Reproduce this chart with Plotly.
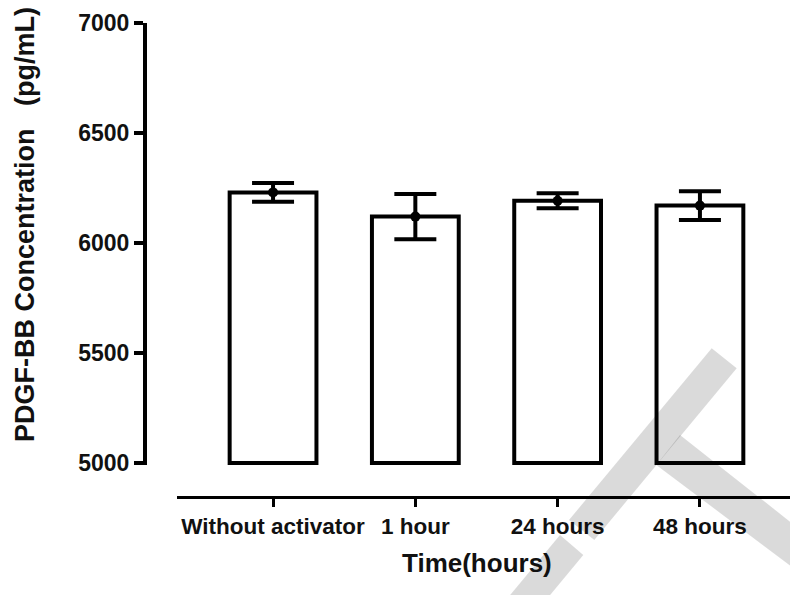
import plotly.graph_objects as go

# ---- data ----
categories = ["Without activator", "1 hour", "24 hours", "48 hours"]
means = [6230, 6120, 6192, 6170]
errors = [43, 103, 34, 65]
y_ticks = [5000, 5500, 6000, 6500, 7000]
baseline = 5000

W, H = 790, 595
FONT = "Liberation Sans"

def px(x):
    return x / W

def py(y):
    return 1 - y / H

xpos = list(range(len(categories)))

fig = go.Figure()
fig.add_trace(go.Bar(
    x=xpos,
    y=[m - baseline for m in means],
    base=baseline,
    width=0.61,
    marker=dict(color="white", line=dict(color="black", width=4)),
    showlegend=False,
    hoverinfo="skip",
))
fig.add_trace(go.Scatter(
    x=xpos,
    y=means,
    mode="markers",
    marker=dict(color="black", size=10),
    error_y=dict(type="data", array=errors, visible=True,
                 color="black", thickness=4, width=21),
    showlegend=False,
    cliponaxis=False,
))

# watermark (decorative, semi-transparent overlay)
def poly(pts):
    return "M " + " L ".join(f"{px(x)},{py(y)}" for x, y in pts) + " Z"

wm = [
    [(711.7, 348.3), (736.7, 368.3), (594.3, 540), (569, 520)],
    [(560, 535), (583.3, 555), (546, 600), (506, 600)],
    [(680, 435), (800, 529.5), (800, 573), (656.3, 465)],
]
shapes = [dict(type="path", xref="paper", yref="paper", path=poly(p),
               fillcolor="black", opacity=0.145, line=dict(width=0),
               layer="above") for p in wm]

ylo = 4990
fig.update_layout(
    width=W, height=H,
    margin=dict(l=0, r=0, t=0, b=0),
    paper_bgcolor="white", plot_bgcolor="white",
    font=dict(family=FONT, color="black"),
    xaxis=dict(
        domain=[px(177), 1],
        range=[-0.675, 3.633],
        anchor="free", position=py(497),
        showline=True, linecolor="black", linewidth=3,
        ticks="outside", ticklen=8, tickwidth=3, tickcolor="black",
        tickvals=xpos, ticktext=categories,
        tickfont=dict(family=FONT, size=22.5, weight="bold", color="#111"),
        showgrid=False, zeroline=False, automargin=False,
    ),
    yaxis=dict(
        domain=[py(463 + (5000 - ylo) * 0.22), py(23)],
        range=[ylo, 7000],
        anchor="free", position=px(145),
        showline=True, linecolor="black", linewidth=4,
        ticks="outside", ticklen=9, tickwidth=4, tickcolor="black",
        tickvals=y_ticks, ticktext=[str(v) for v in y_ticks],
        tickfont=dict(family=FONT, size=23, weight="bold", color="#111"),
        showgrid=False, zeroline=False, automargin=False,
    ),
    annotations=[
        dict(text="PDGF-BB Concentration\u00a0\u00a0\u00a0(pg/mL)",
             textangle=-90, xref="paper", yref="paper",
             x=px(25), y=py(225), xanchor="center", yanchor="middle",
             showarrow=False,
             font=dict(family=FONT, size=27, weight="bold", color="#111")),
        dict(text="Time(hours)", xref="paper", yref="paper",
             x=px(477), y=py(563), xanchor="center", yanchor="middle",
             showarrow=False,
             font=dict(family=FONT, size=26, weight="bold", color="#111")),
    ],
    shapes=shapes,
    bargap=0.3,
)

fig.write_html("out.html")
